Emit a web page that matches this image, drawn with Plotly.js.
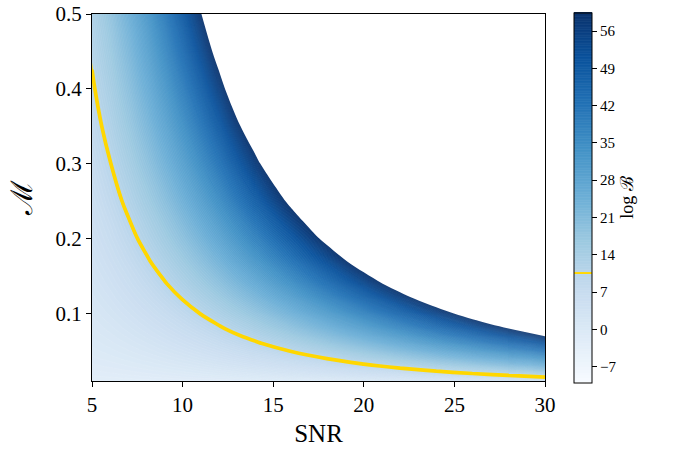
<!DOCTYPE html>
<html><head><meta charset="utf-8">
<script src="https://cdn.plot.ly/plotly-3.0.1.min.js"></script>
<style>html,body{margin:0;padding:0;background:#fff}</style>
</head><body>
<div id="chart" style="width:675px;height:451px"></div>
<script>
// SNR grid (x) and mismatch grid (y)
const snr = [5,6,7,8,9,10,11,12,14,16,18,20,22,24,26,28,30];
const mismatch = [0.01,0.015,0.02,0.03,0.04,0.05,0.06,0.07,0.08,0.10,0.12,0.14,0.17,0.20,0.25,0.30,0.35,0.40,0.45,0.50];
// log Bayes factor estimated on the grid (rows = mismatch, columns = SNR)
const logB = [
 [-2.90,-2.80,-2.67,-2.53,-2.36,-2.18,-1.98,-1.76,-1.25,-0.68,-0.02,0.72,1.53,2.41,3.38,4.42,5.54],
 [-2.42,-2.26,-2.07,-1.85,-1.61,-1.33,-1.03,-0.70,0.06,0.93,1.91,3.01,4.23,5.56,7.01,8.57,10.25],
 [-2.04,-1.83,-1.58,-1.29,-0.96,-0.59,-0.19,0.26,1.26,2.42,3.73,5.20,6.82,8.60,10.53,12.61,14.85],
 [-1.43,-1.11,-0.74,-0.30,0.19,0.74,1.35,2.01,3.52,5.26,7.22,9.42,11.86,14.52,17.41,20.54,23.90],
 [-0.93,-0.51,-0.01,0.57,1.23,1.96,2.77,3.66,5.67,7.99,10.61,13.54,16.79,20.34,24.20,28.37,32.84],
 [-0.49,0.04,0.67,1.39,2.21,3.13,4.14,5.25,7.76,10.66,13.94,17.60,21.66,26.10,30.92,36.13,41.73],
 [-0.08,0.55,1.31,2.17,3.16,4.26,5.47,6.81,9.82,13.29,17.23,21.63,26.49,31.82,37.61,43.86,50.58],
 [0.30,1.04,1.92,2.93,4.08,5.36,6.78,8.33,11.85,15.90,20.49,25.63,31.30,37.52,44.27,51.57,59.40],
 [0.66,1.51,2.51,3.67,4.98,6.45,8.07,9.84,13.86,18.49,23.74,29.61,36.09,43.19,50.91,59.25,68.21],
 [1.34,2.40,3.66,5.10,6.74,8.58,10.60,12.82,17.84,23.63,30.19,37.53,45.63,54.51,64.16,74.58,85.78],
 [1.99,3.26,4.77,6.50,8.47,10.67,13.10,15.77,21.79,28.74,36.61,45.41,55.14,65.79,77.37,89.88,103.31],
 [2.61,4.09,5.85,7.88,10.17,12.74,15.58,18.69,25.71,33.82,43.00,53.27,64.62,77.05,90.56,105.15,120.82],
 [3.51,5.31,7.44,9.90,12.69,15.81,19.26,23.03,31.56,41.40,52.56,65.03,78.81,93.90,110.30,128.02,147.05],
 [4.38,6.50,9.01,11.90,15.19,18.85,22.91,27.34,37.38,48.96,62.08,76.75,92.96,110.72,130.02,150.86,173.25],
 [5.78,8.44,11.57,15.19,19.29,23.88,28.94,34.49,47.04,61.51,77.92,96.25,116.52,138.71,162.84,188.89,216.88],
 [7.15,10.34,14.10,18.44,23.37,28.87,34.95,41.60,56.66,74.03,93.71,115.72,140.03,166.67,195.62,226.88,260.47],
 [8.50,12.21,16.60,21.67,27.41,33.83,40.92,48.69,66.25,86.52,109.49,135.16,163.53,194.60,228.37,264.85,304.03],
 [9.83,14.07,19.09,24.88,31.44,38.78,46.88,55.76,75.83,98.99,125.24,154.58,187.00,222.51,261.11,302.80,347.58],
 [11.14,15.91,21.56,28.07,35.46,43.71,52.83,62.81,85.39,111.45,140.98,173.98,210.46,250.41,293.83,340.73,391.11],
 [12.44,17.75,24.02,31.26,39.46,48.63,58.76,69.86,94.95,123.90,156.71,193.38,233.91,278.30,326.55,378.66,434.63]
];
const threshold = 10.5;
const levelStart = -9.75, levelEnd = 59.25, levelStep = 0.5;
const maxLevel = 59.2;
const cbTicks = [-7,0,7,14,21,28,35,42,49,56];
const xTicks = [5,10,15,20,25,30];
const yTicks = [0.1,0.2,0.3,0.4,0.5];
const blues = [[0,'#f7fbff'],[0.125,'#deebf7'],[0.25,'#c6dbef'],[0.375,'#9ecae1'],[0.5,'#6baed6'],[0.625,'#4292c6'],[0.75,'#2171b5'],[0.875,'#08519c'],[1,'#08306b']];
const gold = '#FFD700';

function hex2rgb(h){return [1,3,5].map(i=>parseInt(h.substr(i,2),16));}
function bluesAt(f){
  for(let i=1;i<blues.length;i++){
    if(f<=blues[i][0]){
      const a=blues[i-1], b=blues[i];
      const t=(f-a[0])/(b[0]-a[0]);
      const ca=hex2rgb(a[1]), cb=hex2rgb(b[1]);
      return 'rgb('+ca.map((v,k)=>Math.round(v+(cb[k]-v)*t)).join(',')+')';
    }
  }
  return blues[blues.length-1][1];
}
// colour domain spans half a step beyond the first/last level
const dLo = levelStart - levelStep/2, dHi = levelEnd + levelStep/2;
const f1 = (threshold - 0.45 - dLo)/(dHi-dLo), f2 = (threshold + 0.45 - dLo)/(dHi-dLo);
const cscale = [];
blues.forEach(s=>{ if(s[0]<f1) cscale.push(s); });
cscale.push([f1,bluesAt(f1)],[f1,gold],[f2,gold],[f2,bluesAt(f2)]);
blues.forEach(s=>{ if(s[0]>f2) cscale.push(s); });

const font = 'Liberation Serif, DejaVu Serif, serif';

const main = {
  type:'contour', x:snr, y:mismatch, z:logB,
  autocontour:false,
  contours:{start:levelStart, end:levelEnd, size:levelStep, coloring:'fill', showlines:true},
  line:{width:0.4, color:'rgba(255,255,255,0.16)', smoothing:1},
  colorscale:cscale,
  hoverinfo:'skip',
  colorbar:{
    x:1.064, xanchor:'left', xpad:0, y:0.5, yanchor:'middle', ypad:0,
    len:1.008, lenmode:'fraction', thickness:18, thicknessmode:'pixels',
    outlinewidth:1, outlinecolor:'#000',
    tickmode:'array', tickvals:cbTicks, ticks:'outside', ticklen:5, tickwidth:1, tickcolor:'#000',
    tickfont:{family:font, size:15, color:'#000'},
    title:{text:'log ℬ', side:'right', font:{family:font, size:18, color:'#000'}}
  }
};
const whiteOut = {
  type:'contour', x:snr, y:mismatch, z:logB, showscale:false, hoverinfo:'skip',
  contours:{type:'constraint', operation:'<', value:maxLevel},
  fillcolor:'#ffffff', line:{width:0, color:'#ffffff', smoothing:1}
};
const yellow = {
  type:'contour', x:snr, y:mismatch, z:logB, showscale:false, hoverinfo:'skip',
  autocontour:false,
  contours:{start:threshold, end:threshold, size:1, coloring:'none', showlines:true},
  line:{color:gold, width:3.7, smoothing:1}
};

const axisCommon = {
  showline:true, mirror:true, linecolor:'#000', linewidth:1,
  ticks:'outside', ticklen:5, tickwidth:1, tickcolor:'#000',
  showgrid:false, zeroline:false, tickmode:'array',
  tickfont:{family:font, size:21, color:'#000'}
};
const layout = {
  width:675, height:451,
  margin:{l:92, r:130, t:14, b:70},
  paper_bgcolor:'#fff', plot_bgcolor:'#fff',
  font:{family:font, color:'#000'},
  xaxis:Object.assign({}, axisCommon, {range:[5,30], tickvals:xTicks,
    title:{text:'SNR', font:{family:font, size:25, color:'#000'}, standoff:8}}),
  yaxis:Object.assign({}, axisCommon, {range:[0.01,0.5], tickvals:yTicks,
    title:{text:'ℳ', font:{family:font, size:30, color:'#000'}, standoff:14}}),
  showlegend:false
};
Plotly.newPlot('chart', [main, whiteOut, yellow], layout, {displayModeBar:false, staticPlot:true});
</script>
</body></html>
